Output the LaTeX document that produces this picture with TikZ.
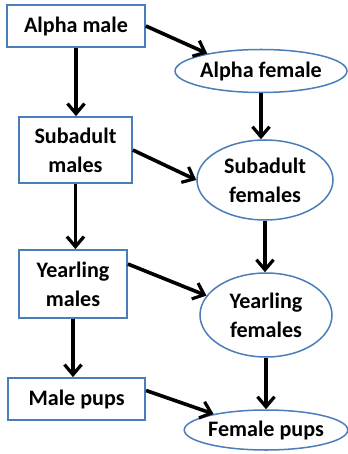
\documentclass[tikz,border=0pt]{standalone}
\usepackage{fontspec}
\setsansfont{Carlito}
\usepackage{xcolor}
\definecolor{packblue}{HTML}{4A7EBB}
\definecolor{packdark}{HTML}{000000}
\usepackage{tikz}
\usetikzlibrary{
  arrows.meta,
  positioning,
  shapes.geometric,
}

\begin{document}
\begin{tikzpicture}[
  malebox/.style={
    draw=packblue, fill=white, line width=1.8pt,
    inner sep=0pt, font=\sffamily\bfseries\fontsize{22}{29}\selectfont,
    text=packdark, align=center,
  },
  femaleoval/.style={
    ellipse, draw=packblue, fill=white, line width=1.5pt,
    inner sep=0pt, font=\sffamily\bfseries\fontsize{22}{29}\selectfont,
    text=packdark, align=center,
  },
  descent/.style={
    -{Straight Barb[length=10pt,width=17pt,line width=3.2pt]}, line width=3.6pt, color=packdark,
  },
]
  \useasboundingbox (0,0) rectangle (12.145,-15.89);

  % --- male column ---
  \node[malebox, minimum width=4.83cm, minimum height=1.47cm]  (am) at (2.66,-0.91)  {Alpha male};
  \node[malebox, minimum width=3.955cm, minimum height=2.31cm] (sm) at (2.64,-5.25)  {Subadult\\males};
  \node[malebox, minimum width=3.78cm, minimum height=2.38cm]  (ym) at (2.555,-9.94) {Yearling\\males};
  \node[malebox, minimum width=4.8cm, minimum height=1.47cm]   (mp) at (2.68,-13.965) {Male pups};

  % --- female column ---
  \node[femaleoval, minimum width=5.88cm, minimum height=1.505cm] (af) at (9.135,-2.485) {Alpha female};
  \node[femaleoval, minimum width=4.76cm, minimum height=2.8cm]   (sf) at (9.275,-6.3)   {Subadult\\females};
  \node[femaleoval, minimum width=4.62cm, minimum height=2.94cm]  (yf) at (9.31,-11.025) {Yearling\\females};
  \node[femaleoval, minimum width=5.355cm, minimum height=1.4cm]  (fp) at (9.31,-15.05)  {Female pups};

  % down the male line
  \draw[descent] (am.south) -- (am.south |- sm.north);
  \draw[descent] (sm.south) -- (sm.south |- ym.north);
  \draw[descent] (ym.south) -- (ym.south |- mp.north);

  % down the female line
  \draw[descent] (af.south) -- (af.south |- sf.north);
  \draw[descent] (sf.south) -- (sf.south |- yf.north);
  \draw[descent] (yf.south) -- (yf.south |- fp.north);

  % across
  \draw[descent] (am.east) -- (af.162);
  \draw[descent] (sm.east) -- (sf.west);
  \draw[descent] (ym.20) -- (yf.162);
  \draw[descent] (mp.7) -- (fp.163);
\end{tikzpicture}
\end{document}
